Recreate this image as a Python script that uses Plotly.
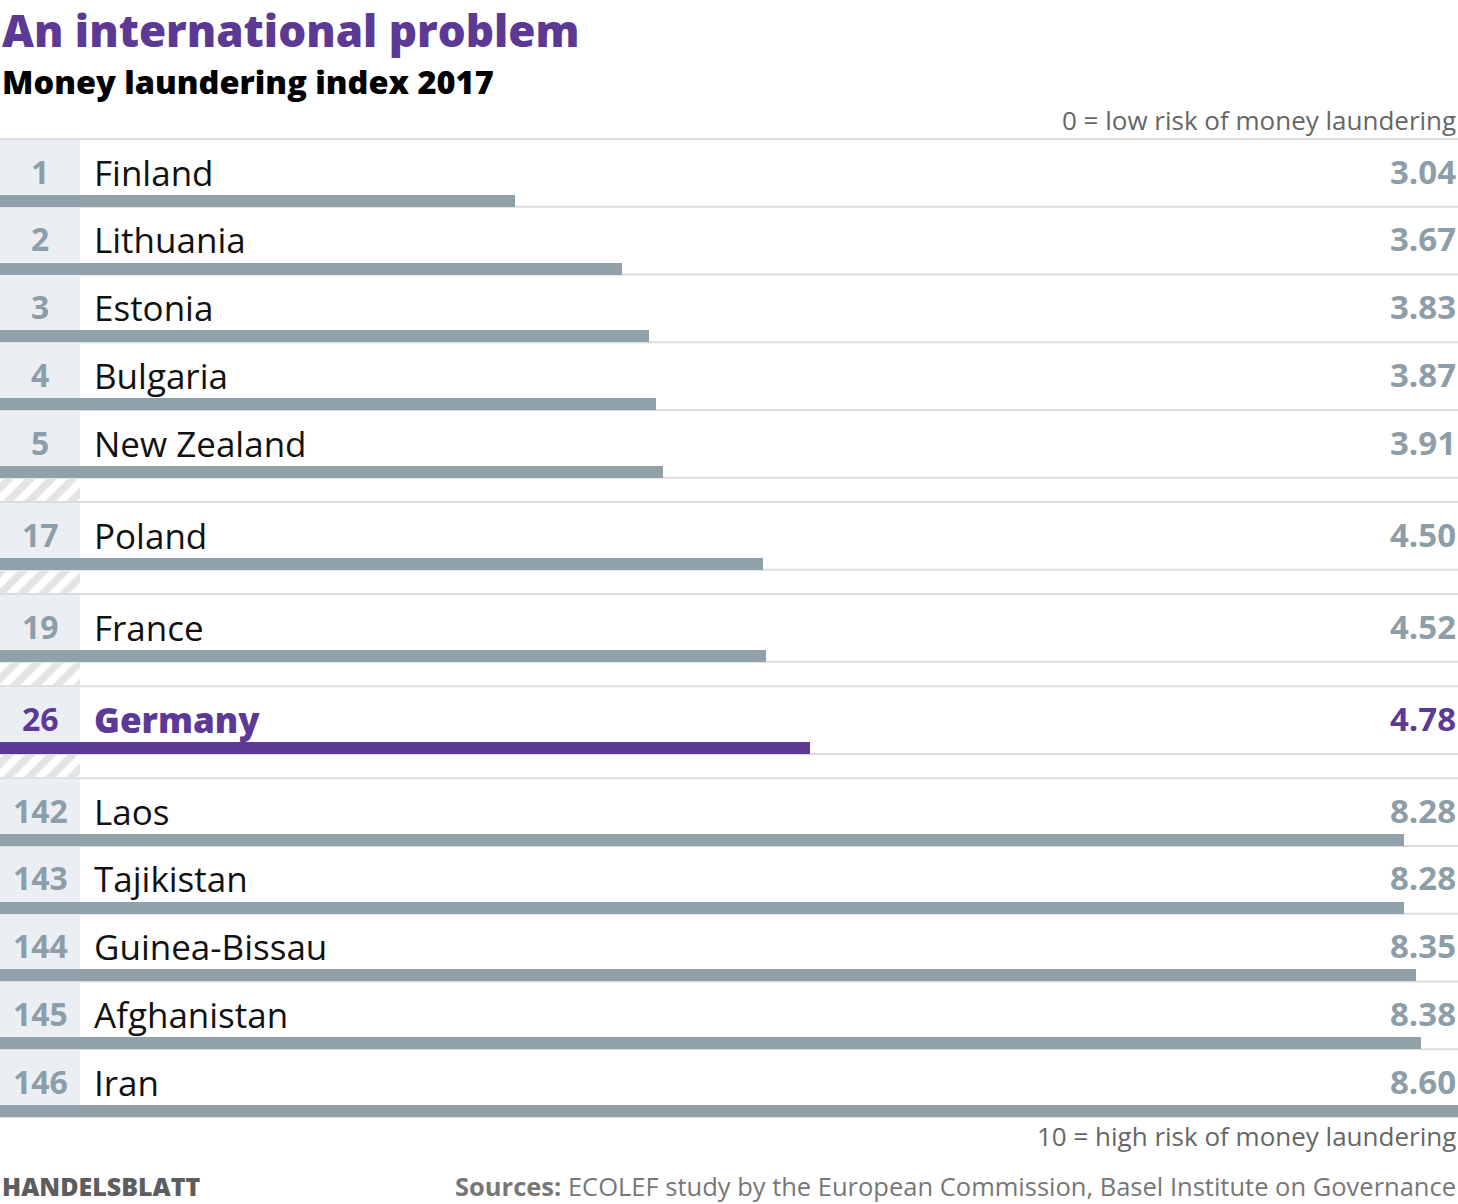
import plotly.graph_objects as go

# ---------------- data ----------------
title = "An international problem"
subtitle = "Money laundering index 2017"
ranks = [1, 2, 3, 4, 5, 17, 19, 26, 142, 143, 144, 145, 146]
countries = ["Finland", "Lithuania", "Estonia", "Bulgaria", "New Zealand", "Poland",
             "France", "Germany", "Laos", "Tajikistan", "Guinea-Bissau", "Afghanistan", "Iran"]
values = [3.04, 3.67, 3.83, 3.87, 3.91, 4.50, 4.52, 4.78, 8.28, 8.28, 8.35, 8.38, 8.60]
highlight = "Germany"
note_low = "0 = low risk of money laundering"
note_high = "10 = high risk of money laundering"
brand = "HANDELSBLATT"
source_label = "Sources:"
source_text = "ECOLEF study by the European Commission, Basel Institute on Governance"

# ---------------- layout constants ----------------
W, H = 1458, 1204
TOP = 139
ROW_H = 67.75
GAP = 24.3
BAR_H = 12
BOX_W = 80
FONT = "Open Sans"
PURPLE = "#5b3995"
GRAY_BAR = "#91a1aa"
GRAY_NUM = "#8d9ea8"
BOX_BG = "#ebeff3"
LINE = "#dcdcdc"

tops, gap_bands = [], []
y = TOP
for i, r in enumerate(ranks):
    if i > 0 and r - ranks[i - 1] > 1:
        gap_bands.append((y, y + GAP))
        y += GAP
    tops.append(y)
    y += ROW_H

bar_centers = [t + ROW_H - BAR_H / 2 for t in tops]
colors = [PURPLE if c == highlight else GRAY_BAR for c in countries]

fig = go.Figure()

# hatched separators (pixel x axis)
fig.add_trace(go.Bar(
    x=[BOX_W] * len(gap_bands), base=0,
    y=[(a + b) / 2 for a, b in gap_bands],
    width=[b - a - 2 for a, b in gap_bands],
    orientation="h", xaxis="x2", yaxis="y",
    marker=dict(color="white", line=dict(width=0),
                pattern=dict(shape="/", fgcolor="#cacaca", bgcolor="white",
                             size=15, solidity=0.5)),
    hoverinfo="skip", showlegend=False,
))

# value bars
fig.add_trace(go.Bar(
    x=values, y=bar_centers, base=0, width=BAR_H, orientation="h",
    marker=dict(color=colors, line=dict(width=0)),
    hoverinfo="skip", showlegend=False,
))

shapes = []
bounds = set()
for t in tops:
    bounds.add(round(t, 2))
    bounds.add(round(t + ROW_H, 2))
for b in sorted(bounds):
    shapes.append(dict(type="rect", xref="paper", yref="y", x0=0, x1=1,
                       y0=b - 1, y1=b + 1, fillcolor=LINE, line=dict(width=0),
                       layer="below"))
for t in tops:
    shapes.append(dict(type="rect", xref="paper", yref="y", x0=0, x1=BOX_W / W,
                       y0=t + 1, y1=t + ROW_H - BAR_H, fillcolor=BOX_BG,
                       line=dict(width=0), layer="below"))

ann = []
for t, r, c, v in zip(tops, ranks, countries, values):
    hl = c == highlight
    num_col = PURPLE if hl else GRAY_NUM
    ann.append(dict(x=40 / W, y=t + 32, xref="paper", yref="y", xanchor="center",
                    yanchor="middle", text=str(r), showarrow=False,
                    font=dict(family=FONT, size=32, weight=700, color=num_col)))
    ann.append(dict(x=92 / W, y=t + 33, xref="paper", yref="y", xanchor="left",
                    yanchor="middle", text=c, showarrow=False,
                    font=dict(family=FONT, size=35, weight=800 if hl else 400,
                              color=PURPLE if hl else "#111111")))
    ann.append(dict(x=1, y=t + 32, xref="paper", yref="y", xanchor="right",
                    yanchor="middle", text=f"{v:.2f}", showarrow=False,
                    font=dict(family=FONT, size=33, weight=700, color=num_col)))

ann += [
    dict(x=0, y=30, xref="paper", yref="y", xanchor="left", yanchor="middle",
         text=title, showarrow=False,
         font=dict(family=FONT, size=44, weight=800, color=PURPLE)),
    dict(x=0, y=81, xref="paper", yref="y", xanchor="left", yanchor="middle",
         text=subtitle, showarrow=False,
         font=dict(family=FONT, size=32.5, weight=800, color="#000000")),
    dict(x=1, y=120, xref="paper", yref="y", xanchor="right", yanchor="middle",
         text=note_low, showarrow=False,
         font=dict(family=FONT, size=26, weight=400, color="#666666")),
    dict(x=1, y=1136, xref="paper", yref="y", xanchor="right", yanchor="middle",
         text=note_high, showarrow=False,
         font=dict(family=FONT, size=26, weight=400, color="#666666")),
    dict(x=0, y=1186, xref="paper", yref="y", xanchor="left", yanchor="middle",
         text=brand, showarrow=False,
         font=dict(family=FONT, size=25, weight=800, color="#5c5d5f")),
    dict(x=1, y=1186, xref="paper", yref="y", xanchor="right", yanchor="middle",
         text=f"<b>{source_label}</b> {source_text}", showarrow=False,
         font=dict(family=FONT, size=25.5, color="#777777")),
]

fig.update_layout(
    width=W, height=H,
    margin=dict(l=0, r=0, t=0, b=0),
    paper_bgcolor="white", plot_bgcolor="white",
    barmode="overlay", bargap=0,
    xaxis=dict(range=[0, values[-1]], visible=False, fixedrange=True),
    xaxis2=dict(range=[0, W], overlaying="x", visible=False, fixedrange=True),
    yaxis=dict(range=[H, 0], visible=False, fixedrange=True),
    shapes=shapes, annotations=ann,
)

fig.write_html("out.html", config=dict(displayModeBar=False),
               post_script="document.body.style.margin='0';document.body.style.overflow='hidden';")
